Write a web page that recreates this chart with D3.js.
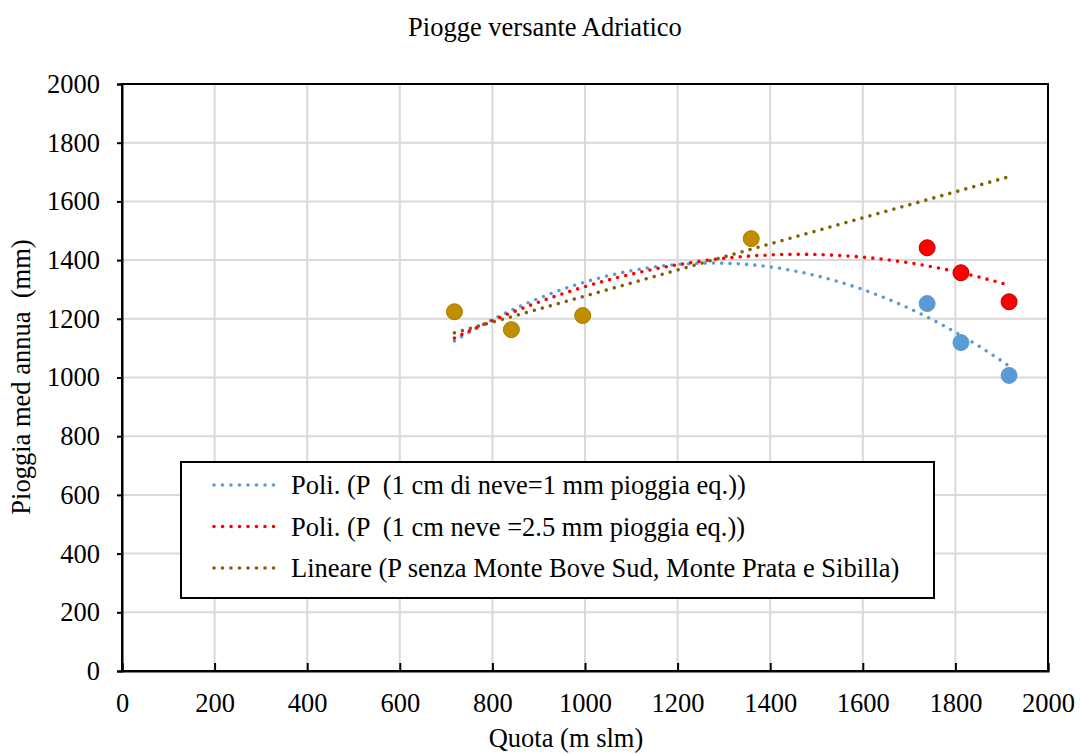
<!DOCTYPE html>
<html>
<head>
<meta charset="utf-8">
<script src="https://cdn.jsdelivr.net/npm/d3@7"></script>
<style>
body { margin: 0; background: #fff; }
svg text { font-family: "Liberation Serif", "Times New Roman", serif; fill: #000; white-space: pre; }
</style>
</head>
<body>
<svg id="chart" width="1080" height="754"></svg>
<script>
// data
var quotaBase = [718, 841, 995, 1359];
var pioggiaBase = [1224, 1163, 1211, 1473];
var quotaHigh = [1739, 1812, 1916];
var pioggiaNeve1 = [1252, 1119, 1007];
var pioggiaNeve25 = [1442, 1357, 1258];
var xTicks = [0, 200, 400, 600, 800, 1000, 1200, 1400, 1600, 1800, 2000];
var yTicks = [0, 200, 400, 600, 800, 1000, 1200, 1400, 1600, 1800, 2000];
var legendLabels = [
    "Poli. (P  (1 cm di neve=1 mm pioggia eq.))",
    "Poli. (P  (1 cm neve =2.5 mm pioggia eq.))",
    "Lineare (P senza Monte Bove Sud, Monte Prata e Sibilla)"
];

var pad_left = 122, pad_right = 1048, pad_top = 84, pad_bot = 671;
var fs = "26.5px";
var svg = d3.select("#chart");

var x = d3.scaleLinear().domain([0, 2000]).range([pad_left, pad_right]);
var y = d3.scaleLinear().domain([0, 2000]).range([pad_bot, pad_top]);

function pts(xs, ys) {
    return xs.map(function (v, i) { return [v, ys[i]]; });
}
var base = pts(quotaBase, pioggiaBase);
var blueSet = base.concat(pts(quotaHigh, pioggiaNeve1));
var redSet = base.concat(pts(quotaHigh, pioggiaNeve25));

// least squares polynomial fit (like the spreadsheet trendline)
function polyfit(data, order) {
    var n = order + 1;
    var A = [], b = [];
    for (var i = 0; i < n; i++) {
        A.push(new Array(n).fill(0));
        b.push(0);
    }
    data.forEach(function (d) {
        var t = d[0] / 1000;
        for (var i = 0; i < n; i++) {
            for (var j = 0; j < n; j++) A[i][j] += Math.pow(t, i + j);
            b[i] += Math.pow(t, i) * d[1];
        }
    });
    for (var c = 0; c < n; c++) {
        for (var r = c + 1; r < n; r++) {
            var f = A[r][c] / A[c][c];
            for (var k = c; k < n; k++) A[r][k] -= f * A[c][k];
            b[r] -= f * b[c];
        }
    }
    var coef = new Array(n).fill(0);
    for (var r = n - 1; r >= 0; r--) {
        var s = b[r];
        for (var k = r + 1; k < n; k++) s -= A[r][k] * coef[k];
        coef[r] = s / A[r][r];
    }
    return function (v) {
        var t = v / 1000, s = 0;
        for (var i = 0; i < n; i++) s += coef[i] * Math.pow(t, i);
        return s;
    };
}

var xmin = d3.min(blueSet, function (d) { return d[0]; });
var xmax = d3.max(blueSet, function (d) { return d[0]; });
var steps = d3.range(xmin, xmax + 0.01, (xmax - xmin) / 120);

var trends = [
    { f: polyfit(blueSet, 2), color: "#5b9bd5" },
    { f: polyfit(redSet, 2), color: "#ff0000" },
    { f: polyfit(base, 1), color: "#7f6000" }
];

// gridlines
svg.append("g").selectAll("line").data(yTicks.slice(1)).enter().append("line")
    .attr("x1", pad_left).attr("x2", pad_right)
    .attr("y1", function (d) { return y(d); }).attr("y2", function (d) { return y(d); })
    .attr("stroke", "#d9d9d9").attr("stroke-width", 2);
svg.append("g").selectAll("line").data(xTicks.slice(1)).enter().append("line")
    .attr("y1", pad_top).attr("y2", pad_bot)
    .attr("x1", function (d) { return x(d); }).attr("x2", function (d) { return x(d); })
    .attr("stroke", "#d9d9d9").attr("stroke-width", 2);

// frame
svg.append("rect").attr("x", pad_left).attr("y", pad_top)
    .attr("width", pad_right - pad_left).attr("height", pad_bot - pad_top)
    .attr("fill", "none").attr("stroke", "#000").attr("stroke-width", 2);

// axes
var yAxis = d3.axisLeft(y).tickValues(yTicks).tickFormat(d3.format("d")).tickSize(5).tickPadding(17);
var gy = svg.append("g").attr("transform", "translate(" + pad_left + ",0)").call(yAxis);
var xAxis = d3.axisBottom(x).tickValues(xTicks).tickFormat(d3.format("d")).tickSize(-8).tickPadding(20);
var gx = svg.append("g").attr("transform", "translate(0," + pad_bot + ")").call(xAxis);
[gx, gy].forEach(function (g) {
    g.attr("font-family", null);
    g.select(".domain").attr("stroke", "#000").attr("stroke-width", 2);
    g.selectAll(".tick line").attr("stroke", "#000").attr("stroke-width", 2);
    g.selectAll(".tick text").style("font-size", fs);
});
gx.selectAll(".tick text").attr("y", 22);

// trendlines
var line = d3.line();
trends.forEach(function (t) {
    svg.append("path")
        .attr("d", line(steps.map(function (v) { return [x(v), y(t.f(v))]; })))
        .attr("fill", "none").attr("stroke", t.color).attr("stroke-width", 3.6)
        .attr("stroke-linecap", "round").attr("stroke-dasharray", "0 8.3");
});

// points
function dots(data, fill, stroke) {
    svg.append("g").selectAll("circle").data(data).enter().append("circle")
        .attr("cx", function (d) { return x(d[0]); })
        .attr("cy", function (d) { return y(d[1]); })
        .attr("r", 8).attr("fill", fill).attr("stroke", stroke).attr("stroke-width", 1);
}
dots(base, "#bf8f00", "#a67c00");
dots(pts(quotaHigh, pioggiaNeve25), "#ff0000", "#c00000");
dots(pts(quotaHigh, pioggiaNeve1), "#5b9bd5", "#5b9bd5");

// legend
var lg = svg.append("g").attr("transform", "translate(181,462)");
lg.append("rect").attr("width", 753).attr("height", 136)
    .attr("fill", "#fff").attr("stroke", "#000").attr("stroke-width", 2);
legendLabels.forEach(function (lab, i) {
    var ly = 23 + i * 41.5;
    lg.append("line").attr("x1", 33).attr("x2", 97).attr("y1", ly).attr("y2", ly)
        .attr("stroke", trends[i].color).attr("stroke-width", 3.6)
        .attr("stroke-linecap", "round").attr("stroke-dasharray", "0 8.5");
    lg.append("text").attr("x", 110).attr("y", ly + 9).style("font-size", fs).text(lab);
});

// titles
svg.append("text").attr("x", 545).attr("y", 36).attr("text-anchor", "middle")
    .style("font-size", fs).text("Piogge versante Adriatico");
svg.append("text").attr("x", 566).attr("y", 747).attr("text-anchor", "middle")
    .style("font-size", fs).text("Quota (m slm)");
svg.append("text").attr("transform", "translate(30,377) rotate(-90)").attr("text-anchor", "middle")
    .style("font-size", fs).text("Pioggia med annua  (mm)");
</script>
</body>
</html>
